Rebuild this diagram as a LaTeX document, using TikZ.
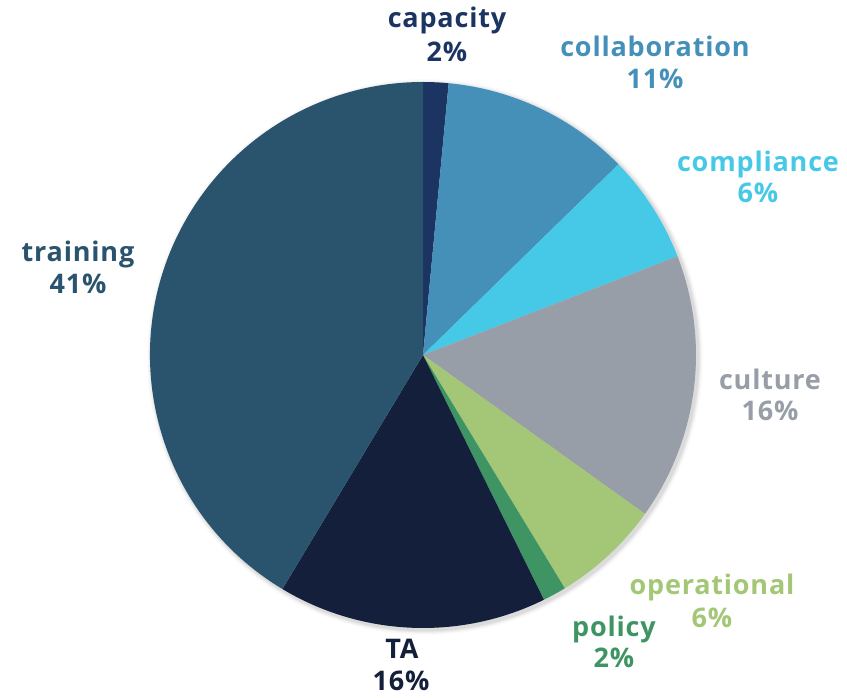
\documentclass[tikz,border=0pt]{standalone}
\usepackage{fontspec}
\setmainfont{Open Sans}[LetterSpace=3]
\definecolor{cCap}{HTML}{1C3461}
\definecolor{cCol}{HTML}{4590B9}
\definecolor{cCom}{HTML}{45C9E7}
\definecolor{cCul}{HTML}{979EA7}
\definecolor{cOpe}{HTML}{A3C777}
\definecolor{cPol}{HTML}{3E9563}
\definecolor{cTA}{HTML}{131F3B}
\definecolor{cTra}{HTML}{2A546D}
\tikzset{
  lbl/.style={anchor=base, inner sep=0pt, font=\fontsize{27}{32}\selectfont\bfseries}
}
\newcommand{\pieslice}[3]{%
  \fill[#3] (423,342) -- ++(#1:273) arc[start angle=#1, end angle=#2, radius=273] -- cycle;}
\begin{document}
\begin{tikzpicture}[x=1pt,y=1pt]
\useasboundingbox (0,0) rectangle (847,697);
% soft shadow
\foreach \i/\o in {1/0.05,2/0.04,3/0.03,4/0.02,5/0.015}{
  \fill[black,opacity=\o] (425,340) circle (273+\i);
}
\coordinate (c) at (423,342);
\pieslice{90}{84.6}{cCap}
\pieslice{84.6}{44.3}{cCol}
\pieslice{44.3}{21.2}{cCom}
\pieslice{21.2}{-35.6}{cCul}
\pieslice{-35.6}{-58.7}{cOpe}
\pieslice{-58.7}{-63.7}{cPol}
\pieslice{-63.7}{-121.0}{cTA}
\pieslice{-121.0}{-270}{cTra}
% labels (y = 697 - pixel baseline)
\node[lbl,text=cCap] (capacity) at (447,669) {capacity};
\node[lbl,text=cCap] (capacityv) at (447,635) {2\%};
\node[lbl,text=cCol] (collab) at (655,640) {collaboration};
\node[lbl,text=cCol] (collabv) at (655,608) {11\%};
\node[lbl,text=cCom] (compl) at (758,525) {compliance};
\node[lbl,text=cCom] (complv) at (758,494) {6\%};
\node[lbl,text=cCul] (cult) at (770,307) {culture};
\node[lbl,text=cCul] (cultv) at (770,276) {16\%};
\node[lbl,text=cOpe] (oper) at (712,102) {operational};
\node[lbl,text=cOpe] (operv) at (712,70) {6\%};
\node[lbl,text=cPol] (pol) at (614,60) {policy};
\node[lbl,text=cPol] (polv) at (614,30) {2\%};
\node[lbl,text=cTA] (ta) at (402,38) {TA};
\node[lbl,text=cTA] (tav) at (401,7) {16\%};
\node[lbl,text=cTra] (train) at (78,435) {training};
\node[lbl,text=cTra] (trainv) at (78,403) {41\%};
\end{tikzpicture}
\end{document}
